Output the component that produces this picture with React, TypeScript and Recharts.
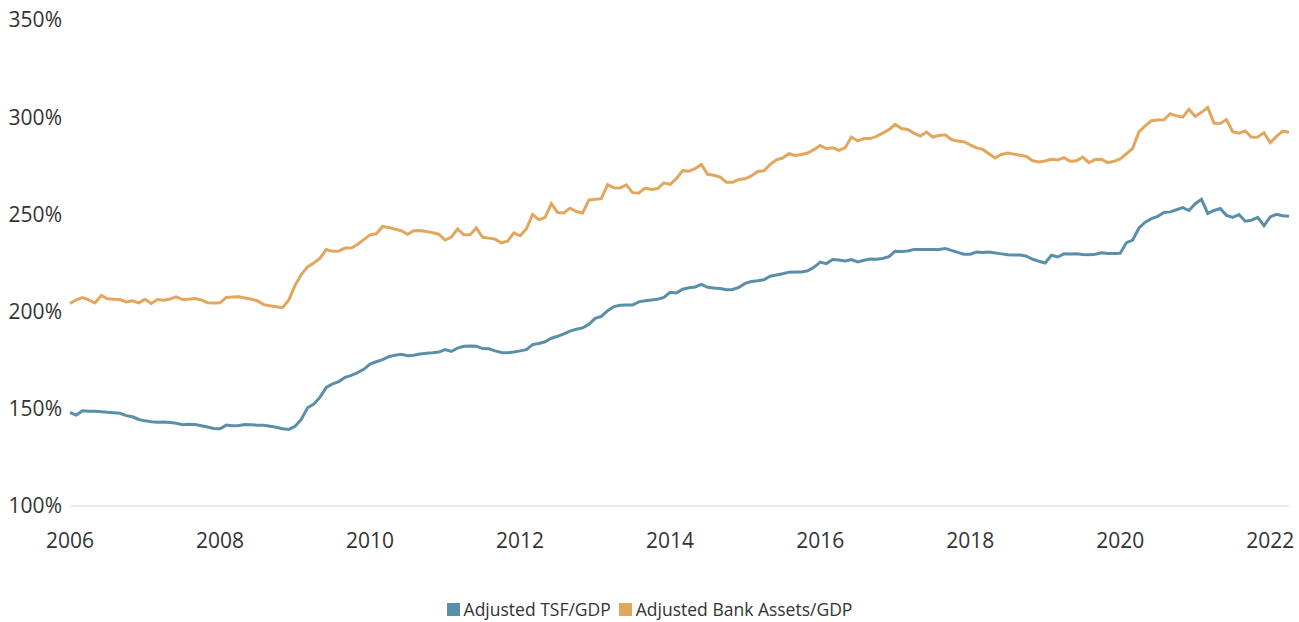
import React from "react";
import { LineChart, Line, XAxis, YAxis, Legend } from "recharts";

// Monthly values, Jan 2006 .. Apr 2022
const startYear = 2006;

const tsfGdp = [
  148.1, 146.8, 149, 148.8, 148.7, 148.5, 148.2, 148, 147.7, 146.5, 145.9, 144.5,
  143.8, 143.3, 143.1, 143.2, 142.9, 142.6, 141.8, 142, 141.9, 141.3, 140.6, 139.9,
  139.7, 141.6, 141.3, 141.4, 141.9, 141.8, 141.6, 141.5, 141, 140.5, 139.7, 139.4,
  141, 144.5, 150.5, 152.4, 156, 161, 162.8, 164, 166.2, 167.2, 168.6, 170.3,
  173, 174.2, 175.3, 176.8, 177.6, 178, 177.3, 177.6, 178.2, 178.6, 178.8, 179.2,
  180.5, 179.5, 181.2, 182.2, 182.3, 182.2, 181, 180.9, 179.8, 179, 178.8, 179.2,
  179.8, 180.4, 183, 183.6, 184.5, 186.3, 187.3, 188.5, 190, 190.9, 191.6, 193.4,
  196.5, 197.5, 200.5, 202.6, 203.3, 203.4, 203.4, 205, 205.6, 206, 206.4, 207.3,
  209.9, 209.6, 211.5, 212.3, 212.7, 214, 212.5, 212.1, 211.9, 211.3, 211.4, 212.5,
  214.5, 215.5, 215.9, 216.4, 218.2, 218.8, 219.5, 220.3, 220.4, 220.4, 221, 222.8,
  225.5, 224.7, 226.8, 226.5, 226, 226.8, 225.6, 226.4, 227.1, 226.9, 227.3, 228.3,
  231, 230.9, 231.2, 231.9, 231.9, 232, 231.9, 232, 232.5, 231.5, 230.5, 229.5,
  229.5, 230.6, 230.4, 230.6, 230.2, 229.7, 229.2, 229.1, 229.1, 228.5, 226.9, 225.9,
  225, 229, 228.1, 229.7, 229.6, 229.8, 229.4, 229.3, 229.5, 230.3, 229.9, 229.9,
  230, 235.5, 236.8, 243, 246, 247.8, 249, 251, 251.3, 252.4, 253.5, 252,
  255.5, 257.8, 250.5, 252, 253, 249.5, 248.5, 249.9, 246.5, 247, 248.5, 244.2,
  248.7, 250, 249.3, 249,
];

const bankAssetsGdp = [
  204.2, 206, 207.2, 206, 204.5, 208.3, 206.6, 206.3, 206.2, 205, 205.6, 204.5,
  206.3, 204.2, 206.2, 205.9, 206.5, 207.6, 206.2, 206.4, 206.7, 206, 204.5, 204.4,
  204.5, 207.3, 207.5, 207.6, 207, 206.4, 205.5, 203.6, 203, 202.5, 202, 206,
  213.5, 219, 223, 225, 227.5, 231.9, 231, 231.2, 232.7, 232.7, 234.5, 237,
  239.5, 240, 243.8, 243.3, 242.4, 241.6, 239.8, 241.6, 241.7, 241.2, 240.6, 239.8,
  236.8, 238.3, 242.5, 239.5, 239.5, 243, 238.2, 237.8, 237.3, 235.4, 236.2, 240.5,
  239, 242.5, 250, 247.2, 248.5, 255.5, 251, 250.7, 253.2, 251.5, 250.7, 257.4,
  257.8, 258.1, 265.3, 263.7, 263.6, 265.2, 261.2, 261, 263.5, 262.8, 263.3, 266.2,
  265.5, 268.4, 272.5, 272.2, 273.5, 275.7, 270.6, 270.1, 269.2, 266.6, 266.6, 268,
  268.3, 269.8, 272.1, 272.4, 275.7, 278.1, 279, 281.2, 280.3, 280.8, 281.6, 283.3,
  285.5, 283.8, 284.3, 282.9, 284.3, 289.8, 287.8, 289, 289, 290.1, 291.8, 293.6,
  296.3, 294.2, 293.7, 291.8, 290.3, 292.3, 289.8, 290.6, 291, 288.5, 287.7, 287.4,
  285.8, 284.2, 283.5, 281.2, 279, 280.8, 281.6, 281, 280.4, 279.8, 277.6, 277,
  277.5, 278.4, 278, 279.2, 277.3, 277.6, 279.5, 276.6, 278.2, 278.3, 276.6, 277.3,
  278.5, 281.2, 284, 292.5, 295.5, 298.2, 298.5, 298.7, 301.8, 300.7, 300, 304,
  300.5, 302.5, 305, 297, 296.8, 298.8, 292.5, 291.8, 292.9, 289.7, 289.8, 292,
  286.9, 290.1, 292.8, 292.3,
];

const xTicks = [2006, 2008, 2010, 2012, 2014, 2016, 2018, 2020, 2022];
const yTicks = [100, 150, 200, 250, 300, 350];

const seriesNames = ["Adjusted TSF/GDP", "Adjusted Bank Assets/GDP"];
const seriesColors = ["#5b8fa9", "#e2a65d"];

const rows = tsfGdp.map((v, i) => ({
  t: startYear + i / 12,
  tsf: v,
  bank: bankAssetsGdp[i],
}));

const FONT = "'Open Sans', 'Noto Sans', sans-serif";

const LegendContent = () => (
  <div
    style={{
      height: 26,
      display: "flex",
      justifyContent: "center",
      alignItems: "center",
      fontFamily: FONT,
      fontSize: 17.5,
      color: "#333",
      paddingLeft: 10,
    }}
  >
    {seriesNames.map((n, i) => (
      <span key={n} style={{ display: "inline-flex", alignItems: "center", marginRight: i === 0 ? 8 : 0 }}>
        <span style={{ width: 13, height: 13, background: seriesColors[i], display: "inline-block", marginRight: 4 }} />
        {n}
      </span>
    ))}
  </div>
);

export default function App() {
  return (
    <div style={{ fontFamily: FONT, position: "absolute", top: 0, left: 0, width: 1299, height: 622, overflow: "hidden" }}>
      <LineChart
        width={1299}
        height={622}
        data={rows}
        margin={{ top: 20, right: 10, left: 0, bottom: 0 }}
      >
        <XAxis
          dataKey="t"
          type="number"
          domain={[2006, 2022.25]}
          ticks={xTicks}
          tickLine={false}
          tickSize={0}
          tickMargin={27}
          height={90}
          axisLine={{ stroke: "#e4e4e4", strokeWidth: 1.5 }}
          tick={{ fill: "#333", fontSize: 21, fontFamily: FONT }}
          allowDecimals={false}
        />
        <YAxis
          domain={[100, 350]}
          ticks={yTicks}
          tickFormatter={(v) => `${v}%`}
          width={70}
          axisLine={false}
          tickLine={false}
          tickSize={0}
          tickMargin={8}
          tick={{ fill: "#333", fontSize: 21, fontFamily: FONT }}
        />
        <Legend verticalAlign="bottom" content={<LegendContent />} wrapperStyle={{ margin: 0, padding: 0 }} />
        <Line
          dataKey="tsf"
          name={seriesNames[0]}
          stroke={seriesColors[0]}
          strokeWidth={3}
          dot={false}
          type="linear"
          isAnimationActive={false}
        />
        <Line
          dataKey="bank"
          name={seriesNames[1]}
          stroke={seriesColors[1]}
          strokeWidth={3}
          dot={false}
          type="linear"
          isAnimationActive={false}
        />
      </LineChart>
    </div>
  );
}
